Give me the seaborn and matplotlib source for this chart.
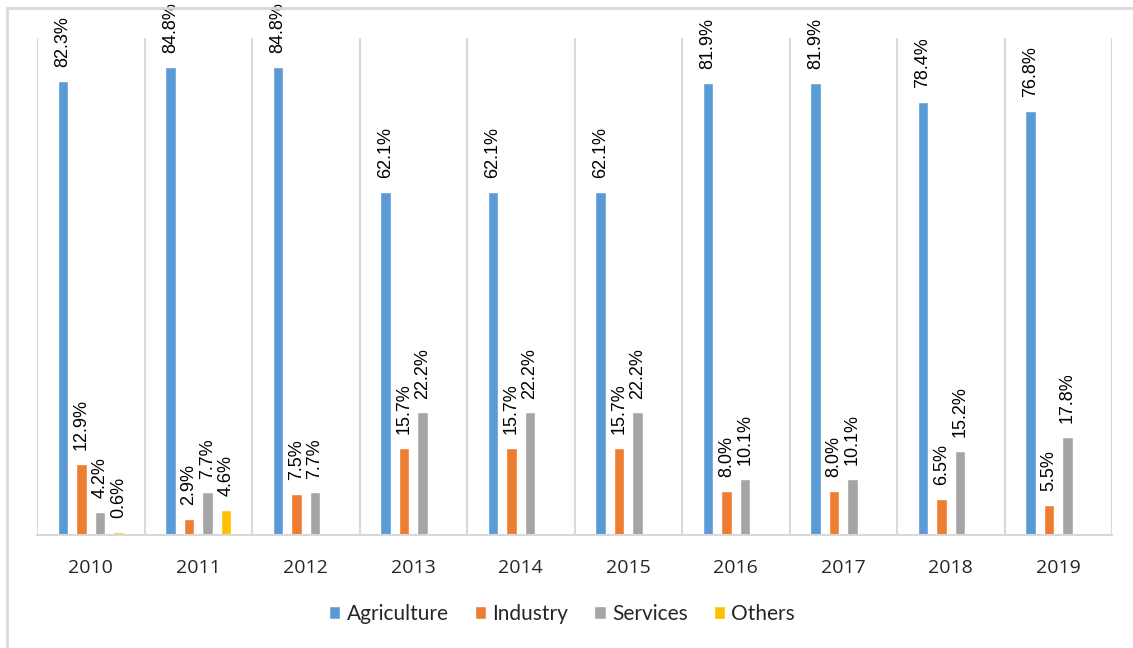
import numpy as np
import pandas as pd
import matplotlib.pyplot as plt
import seaborn as sns
from matplotlib.patches import Rectangle
from matplotlib.ticker import FixedLocator

years = ['2010', '2011', '2012', '2013', '2014', '2015', '2016', '2017', '2018', '2019']
sectors = ['Agriculture', 'Industry', 'Services', 'Others']
agriculture = [82.3, 84.8, 84.8, 62.1, 62.1, 62.1, 81.9, 81.9, 78.4, 76.8]
industry = [12.9, 2.9, 7.5, 15.7, 15.7, 15.7, 8.0, 8.0, 6.5, 5.5]
services = [4.2, 7.7, 7.7, 22.2, 22.2, 22.2, 10.1, 10.1, 15.2, 17.8]
others = [0.6, 4.6, np.nan, np.nan, np.nan, np.nan, np.nan, np.nan, np.nan, np.nan]
colors = ['#5B9BD5', '#ED7D31', '#A5A5A5', '#FFC000']


def build_frame():
    rows = []
    for name, vals in zip(sectors, [agriculture, industry, services, others]):
        for y, v in zip(years, vals):
            rows.append({'Year': y, 'Sector': name, 'Share': v})
    return pd.DataFrame(rows)


df = build_frame()

sns.set_style('white')
plt.rcParams['font.family'] = ['Liberation Sans', 'DejaVu Sans']

fig = plt.figure(figsize=(11.33, 6.48), dpi=100)
ax = fig.add_axes([37 / 1133, 1 - 535 / 648, 1075 / 1133, 497 / 648])

sns.barplot(data=df, x='Year', y='Share', hue='Sector', order=years, hue_order=sectors,
            palette=colors, width=0.69, gap=0.45, saturation=1, errorbar=None, ax=ax)

# labels above each bar, skip the missing ones
for c in ax.containers:
    labels = ['' if np.isnan(v) else f'{v:.1f}%' for v in c.datavalues]
    ax.bar_label(c, labels=labels, rotation=90, padding=10, fontsize=13, color='#000000')

ax.set_ylim(0, 90)
ax.set_xlim(-0.5, 9.5)
ax.set_xlabel('')
ax.set_ylabel('')
ax.set_yticks([])
ax.set_xticks(range(len(years)), years, fontsize=14, fontfamily='Open Sans')
ax.xaxis.set_minor_locator(FixedLocator(np.arange(-0.5, 10, 1)))
ax.grid(which='minor', axis='x', color='#D9D9D9', linewidth=1.5)
ax.tick_params(axis='x', which='both', length=0, pad=17)
for s in ['top', 'left', 'right']:
    ax.spines[s].set_visible(False)
ax.spines['bottom'].set_color('#D9D9D9')
ax.spines['bottom'].set_linewidth(1.5)

sns.move_legend(ax, 'center', bbox_to_anchor=(0.496, 1 - 614 / 648), bbox_transform=fig.transFigure,
                ncol=4, frameon=False, title=None, handlelength=0.55, handleheight=0.55,
                columnspacing=1.25, handletextpad=0.3, prop={'family': 'Lato', 'size': 15})

fig.patches.append(Rectangle((7 / 1133, -0.01), 1.02, 1 - 8 / 648 + 0.01, transform=fig.transFigure,
                             fill=False, edgecolor='#D9D9D9', linewidth=2))

fig.savefig('out.png', dpi=100)
